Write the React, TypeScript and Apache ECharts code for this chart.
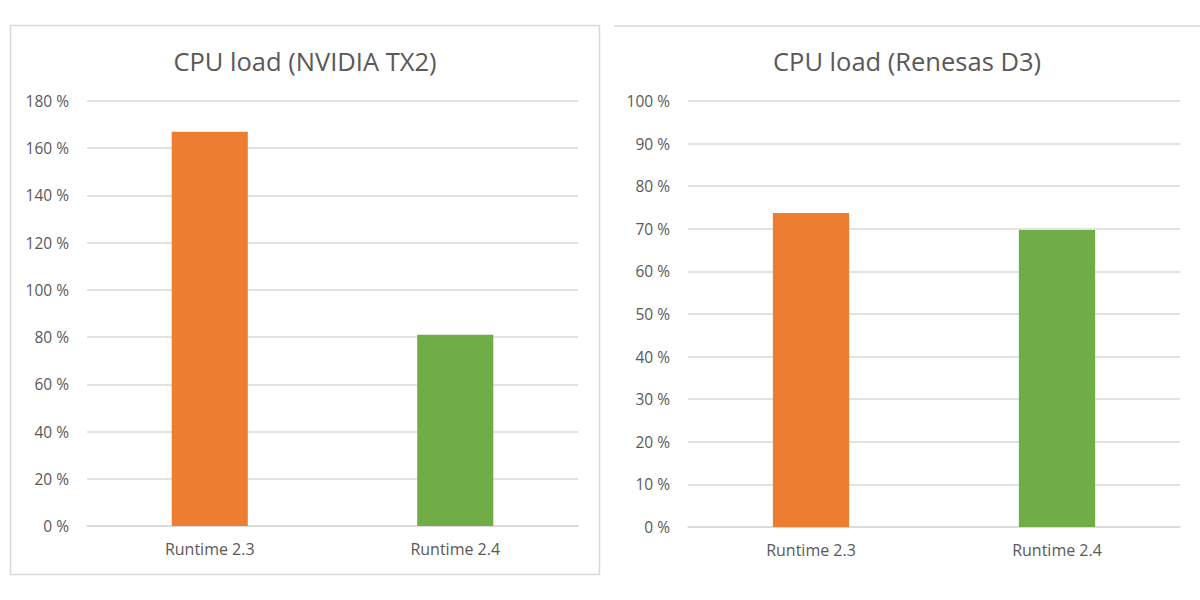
import React, { useEffect, useRef } from "react";
import * as echarts from "echarts";

const categories = ["Runtime 2.3", "Runtime 2.4"];
const tx2Values = [167, 81];
const d3Values = [73.7, 69.7];
const barColors = ["#ED7D31", "#70AD47"];
const tx2Title = "CPU load (NVIDIA TX2)";
const d3Title = "CPU load (Renesas D3)";

const FONT = "'Open Sans', 'Noto Sans', sans-serif";
const TEXT = "#595959";
const GRID = "#d9d9d9";

export default function App() {
  const ref = useRef<HTMLDivElement>(null);
  useEffect(() => {
    if (!ref.current) return;
    const chart = echarts.init(ref.current, undefined, { renderer: "svg" });
    const yAxisBase = (max: number, interval: number, gridIndex: number) => ({
      type: "value",
      gridIndex,
      min: 0,
      max,
      interval,
      axisLine: { show: false },
      axisTick: { show: false },
      axisLabel: {
        formatter: "{value} %",
        color: TEXT,
        fontSize: 15.5,
        fontFamily: FONT,
        margin: 18,
      },
      splitLine: { lineStyle: { color: GRID, width: 1.5 } },
    });
    const xAxisBase = (gridIndex: number) => ({
      type: "category",
      gridIndex,
      data: categories,
      axisLine: { show: true, lineStyle: { color: GRID, width: 1.5 } },
      axisTick: { show: false },
      axisLabel: { color: TEXT, fontSize: 16, fontFamily: FONT, margin: 15 },
    });
    const seriesData = (vals: number[]) =>
      vals.map((v, i) => ({ value: v, itemStyle: { color: barColors[i] } }));
    chart.setOption({
      animation: false,
      grid: [
        { left: 87, right: 622, top: 101, bottom: 74 },
        { left: 688, right: 20, top: 101, bottom: 73 },
      ],
      xAxis: [xAxisBase(0), xAxisBase(1)],
      yAxis: [yAxisBase(180, 20, 0), yAxisBase(100, 10, 1)],
      series: [
        {
          type: "bar",
          xAxisIndex: 0,
          yAxisIndex: 0,
          barWidth: "31%",
          data: seriesData(tx2Values),
        },
        {
          type: "bar",
          xAxisIndex: 1,
          yAxisIndex: 1,
          barWidth: "31%",
          data: seriesData(d3Values),
        },
      ],
      graphic: [
        {
          type: "rect",
          shape: { x: 10.5, y: 25.5, width: 589, height: 549 },
          style: { fill: "none", stroke: GRID, lineWidth: 1.5 },
          silent: true,
        },
        {
          type: "line",
          shape: { x1: 614, y1: 26, x2: 1200, y2: 26 },
          style: { stroke: GRID, lineWidth: 1.5 },
          silent: true,
        },
        {
          type: "text",
          x: 305,
          y: 61,
          style: {
            text: tx2Title,
            fill: TEXT,
            font: `25.5px ${FONT}`,
            textAlign: "center",
            textVerticalAlign: "middle",
          },
        },
        {
          type: "text",
          x: 907,
          y: 61,
          style: {
            text: d3Title,
            fill: TEXT,
            font: `25.5px ${FONT}`,
            textAlign: "center",
            textVerticalAlign: "middle",
          },
        },
      ],
    });
    return () => chart.dispose();
  }, []);
  return (
    <div
      ref={ref}
      style={{ position: "fixed", left: 0, top: 0, width: 1200, height: 600, background: "#fff" }}
    />
  );
}
